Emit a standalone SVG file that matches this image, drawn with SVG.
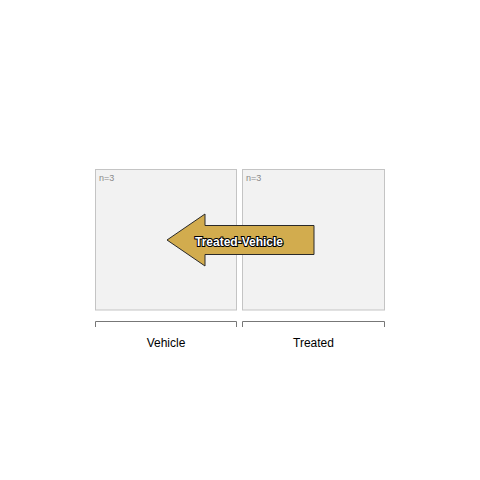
<svg xmlns="http://www.w3.org/2000/svg" width="480" height="480" viewBox="0 0 480 480">
<style>
.panel{fill:#f2f2f2;stroke:#c4c4c4;stroke-width:1}
.n{font-family:"Liberation Sans",Arial,sans-serif;font-size:9px;fill:#8a8a8a}
.br{fill:none;stroke:#777;stroke-width:1}
.lab{font-family:"Liberation Sans",Arial,sans-serif;font-size:12px;fill:#000;text-anchor:middle}
.at{font-family:"Liberation Sans",Arial,sans-serif;font-size:12px;font-weight:bold;fill:#fff;stroke:#000;stroke-width:2;paint-order:stroke;text-anchor:middle}
</style>
<rect width="480" height="480" fill="#fff"/>
<g id="panel-vehicle">
<rect class="panel" x="95.5" y="169.5" width="141" height="140.5"/>
<text class="n" x="99" y="181">n=3</text>
</g>
<g id="panel-treated">
<rect class="panel" x="242.5" y="169.5" width="142" height="140.5"/>
<text class="n" x="246" y="181">n=3</text>
</g>
<g id="brackets">
<path class="br" d="M95.5,327V321.5H236.5V327"/>
<text class="lab" x="166" y="347">Vehicle</text>
<path class="br" d="M242.5,327V321.5H384.5V327"/>
<text class="lab" x="313.5" y="347">Treated</text>
</g>
<g id="connectors">
<path d="M314,225.5H205V214L167,240L205,266V254.5H314Z" fill="#d2ac4e" stroke="#2a2a2a" stroke-width="1"/>
<text class="at" x="239" y="245.5">Treated-Vehicle</text>
</g>
</svg>
